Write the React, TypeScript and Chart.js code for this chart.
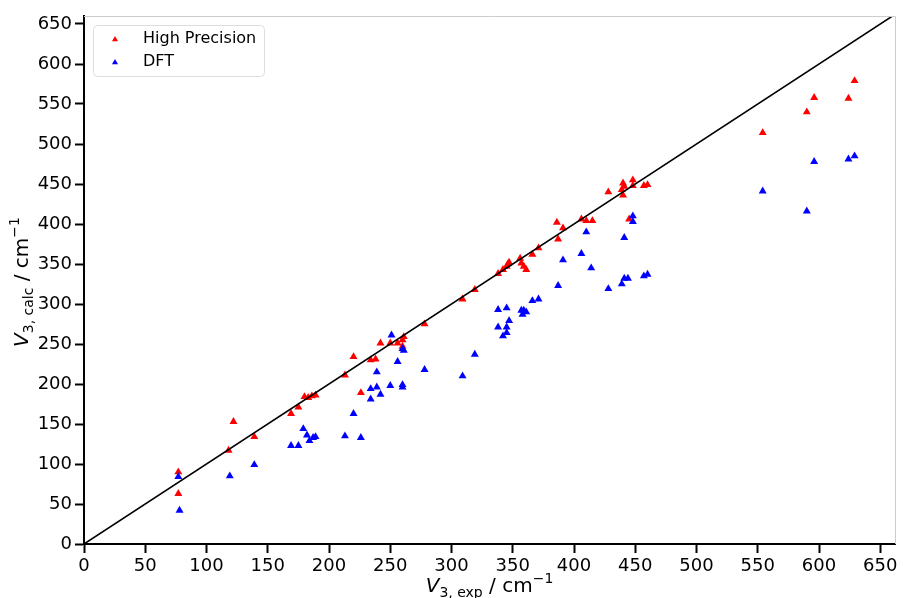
import React, { useEffect, useRef } from 'react';
import { Chart, registerables } from 'chart.js';

Chart.register(...registerables);

// High Precision series
const hpExp = [77, 77, 118, 122, 139, 169, 175, 180, 183, 186, 189, 213, 220, 226, 234, 238, 242, 250, 256, 260, 261, 260, 278, 309, 319, 338, 342, 345, 346, 347, 356, 357, 359, 361, 366, 371, 386, 387, 391, 406, 410, 415, 428, 439, 440, 440, 441, 445, 448, 448, 457, 460, 554, 590, 596, 624, 629];
const hpCalc = [90, 63, 117, 153, 134, 163, 171, 184, 183, 185, 186, 211, 234, 189, 230, 231, 251, 251, 251, 255, 259, 247, 275, 306, 318, 338, 343, 347, 350, 352, 357, 351, 347, 343, 362, 370, 402, 381, 395, 406, 404, 404, 440, 443, 436, 451, 447, 406, 455, 448, 448, 449, 514, 540, 558, 557, 579];

// DFT series
const dftExp = [77, 78, 119, 139, 169, 175, 179, 182, 184, 187, 189, 213, 220, 226, 234, 234, 239, 239, 242, 250, 251, 256, 260, 260, 261, 260, 278, 309, 319, 338, 338, 342, 345, 345, 345, 347, 357, 358, 359, 361, 366, 371, 387, 391, 406, 410, 414, 428, 439, 441, 441, 444, 448, 448, 457, 460, 554, 590, 596, 624, 629];
const dftCalc = [84, 42, 85, 99, 123, 123, 144, 136, 129, 133, 134, 135, 163, 133, 194, 181, 215, 196, 187, 198, 261, 228, 199, 196, 242, 244, 218, 210, 237, 293, 271, 260, 264, 295, 271, 279, 292, 287, 292, 290, 304, 306, 323, 355, 363, 390, 345, 319, 325, 383, 332, 332, 410, 403, 335, 337, 441, 416, 478, 481, 485];

// y = x reference line
const diagX = [0, 700];

const seriesNames = ['High Precision', 'DFT'];
const seriesColors = ['#ff0000', '#0000ff'];

const X_MIN = 0, X_MAX = 662, Y_MIN = 0, Y_MAX = 660, STEP = 50;

const FONT = "'DejaVu Sans', sans-serif";

type Seg = { t: string; size: number; italic?: boolean; dy?: number };

const xTitle: Seg[] = [
  { t: 'V', size: 20, italic: true },
  { t: '3, exp', size: 14, dy: 5 },
  { t: ' / cm', size: 20 },
  { t: '\u22121', size: 14, dy: -9 },
];
const yTitle: Seg[] = [
  { t: 'V', size: 20, italic: true },
  { t: '3, calc', size: 14, dy: 5 },
  { t: ' / cm', size: 20 },
  { t: '\u22121', size: 14, dy: -9 },
];

function fontOf(s: Seg) {
  return `${s.italic ? 'italic ' : ''}${s.size}px ${FONT}`;
}

function drawRich(ctx: CanvasRenderingContext2D, segs: Seg[], cx: number, baseY: number) {
  let total = 0;
  const widths = segs.map((s) => {
    ctx.font = fontOf(s);
    const w = ctx.measureText(s.t).width;
    total += w;
    return w;
  });
  let x = cx - total / 2;
  segs.forEach((s, i) => {
    ctx.font = fontOf(s);
    ctx.fillText(s.t, x, baseY + (s.dy || 0));
    x += widths[i];
  });
}

function triangle(ctx: CanvasRenderingContext2D, x: number, y: number, r: number, color: string) {
  ctx.beginPath();
  ctx.moveTo(x, y - r);
  ctx.lineTo(x + r * 0.866, y + r * 0.5);
  ctx.lineTo(x - r * 0.866, y + r * 0.5);
  ctx.closePath();
  ctx.fillStyle = color;
  ctx.fill();
}

const decorPlugin = {
  id: 'decor',
  afterDraw(chart: any) {
    const { ctx, chartArea: a } = chart;
    ctx.save();
    // light top/right spines
    ctx.strokeStyle = '#cccccc';
    ctx.lineWidth = 1;
    ctx.beginPath();
    ctx.moveTo(a.left, a.top + 0.5);
    ctx.lineTo(a.right + 0.5, a.top + 0.5);
    ctx.lineTo(a.right + 0.5, a.bottom);
    ctx.stroke();

    // legend
    const lx = 93.5, ly = 25.5, lw = 171, lh = 51, rr = 4;
    ctx.beginPath();
    ctx.moveTo(lx + rr, ly);
    ctx.lineTo(lx + lw - rr, ly);
    ctx.arcTo(lx + lw, ly, lx + lw, ly + rr, rr);
    ctx.lineTo(lx + lw, ly + lh - rr);
    ctx.arcTo(lx + lw, ly + lh, lx + lw - rr, ly + lh, rr);
    ctx.lineTo(lx + rr, ly + lh);
    ctx.arcTo(lx, ly + lh, lx, ly + lh - rr, rr);
    ctx.lineTo(lx, ly + rr);
    ctx.arcTo(lx, ly, lx + rr, ly, rr);
    ctx.closePath();
    ctx.fillStyle = 'rgba(255,255,255,0.8)';
    ctx.fill();
    ctx.strokeStyle = '#dddddd';
    ctx.stroke();
    const rowsY = [39, 62];
    seriesNames.forEach((name, i) => {
      triangle(ctx, 115, rowsY[i] + 0.5, 3.5, seriesColors[i]);
      ctx.fillStyle = '#000';
      ctx.font = `16px ${FONT}`;
      ctx.textAlign = 'left';
      ctx.textBaseline = 'middle';
      ctx.fillText(name, 143, rowsY[i]);
    });

    // axis titles
    ctx.fillStyle = '#000';
    ctx.textAlign = 'left';
    ctx.textBaseline = 'alphabetic';
    drawRich(ctx, xTitle, (a.left + a.right) / 2, 592);
    ctx.translate(28, (a.top + a.bottom) / 2 + 2);
    ctx.rotate(-Math.PI / 2);
    drawRich(ctx, yTitle, 0, 0);
    ctx.restore();
  },
};

export default function App() {
  const ref = useRef<HTMLCanvasElement | null>(null);

  useEffect(() => {
    if (!ref.current) return;
    const tickFont = { family: FONT, size: 18 };
    const axisCommon = {
      type: 'linear' as const,
      ticks: {
        stepSize: STEP,
        includeBounds: false,
        font: tickFont,
        color: '#000',
        padding: 3,
        maxRotation: 0,
        autoSkip: false,
      },
      grid: {
        drawOnChartArea: false,
        drawTicks: true,
        tickLength: 9,
        tickWidth: 2,
        tickColor: '#000',
      },
      border: { display: true, color: '#000', width: 2 },
    };
    const chart = new Chart(ref.current, {
      type: 'scatter',
      data: {
        datasets: [
          {
            type: 'line' as any,
            label: 'y = x',
            data: diagX.map((v) => ({ x: v, y: v })),
            borderColor: '#000',
            borderWidth: 1.6,
            pointRadius: 0,
            fill: false,
            order: 0,
          },
          {
            label: seriesNames[0],
            data: hpExp.map((v, i) => ({ x: v, y: hpCalc[i] })),
            pointStyle: 'triangle',
            pointRadius: 4.6,
            backgroundColor: seriesColors[0],
            borderColor: seriesColors[0],
            borderWidth: 0,
            order: 2,
          },
          {
            label: seriesNames[1],
            data: dftExp.map((v, i) => ({ x: v, y: dftCalc[i] })),
            pointStyle: 'triangle',
            pointRadius: 4.6,
            backgroundColor: seriesColors[1],
            borderColor: seriesColors[1],
            borderWidth: 0,
            order: 1,
          },
        ],
      },
      options: {
        responsive: false,
        animation: false,
        devicePixelRatio: 1,
        layout: { padding: { top: 16, right: 8, left: 0, bottom: 0 } },
        plugins: {
          legend: { display: false },
          tooltip: { enabled: false },
        },
        scales: {
          x: {
            ...axisCommon,
            min: X_MIN,
            max: X_MAX,
            afterFit: (s: any) => {
              s.height = 54;
            },
          },
          y: {
            ...axisCommon,
            min: Y_MIN,
            max: Y_MAX,
            afterFit: (s: any) => {
              s.width = 84;
            },
          },
        } as any,
      },
      plugins: [decorPlugin],
    });
    return () => chart.destroy();
  }, []);

  return (
    <div style={{ position: 'absolute', left: 0, top: 0, width: 903, height: 598, background: '#fff' }}>
      <canvas ref={ref} width={903} height={598} />
    </div>
  );
}
